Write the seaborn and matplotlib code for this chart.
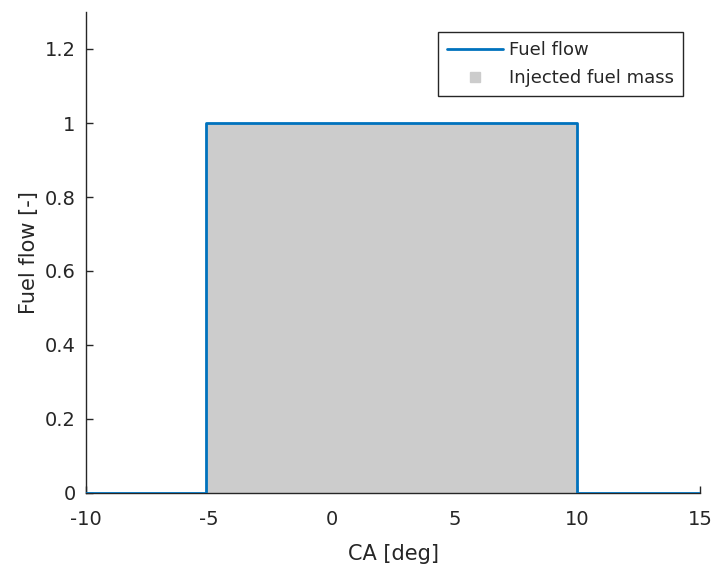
import matplotlib
matplotlib.use("Agg")
import matplotlib.pyplot as plt
import seaborn as sns
import pandas as pd
from matplotlib.lines import Line2D

# Data
ca_deg = [-10, -5.1, -5.1, 10, 10, 15]
fuel_flow = [0, 0, 1, 1, 0, 0]
x_ticks = [-10, -5, 0, 5, 10, 15]
y_ticks = [0, 0.2, 0.4, 0.6, 0.8, 1, 1.2]
y_tick_labels = ["0", "0.2", "0.4", "0.6", "0.8", "1", "1.2"]

sns.set_theme(style="white")
plt.rcParams['font.family'] = ['DejaVu Sans']

df = pd.DataFrame({"CA": ca_deg, "flow": fuel_flow})

fig = plt.figure(figsize=(7.14, 5.67), dpi=100)
ax = fig.add_axes([86/714, 1-493/567, (700-86)/714, (493-12)/567])

blue = (0, 0.447, 0.741)
gray = (0.8, 0.8, 0.8)
dark = (0.15, 0.15, 0.15)
ax.fill_between(df["CA"], df["flow"], 0, color=gray, linewidth=0, zorder=1)
sns.lineplot(data=df, x="CA", y="flow", ax=ax, color=blue, linewidth=2,
             sort=False, estimator=None, zorder=6)

ax.set_xlim(-10, 15)
ax.set_ylim(0, 1.3)
ax.set_xticks(x_ticks)
ax.set_xticklabels([str(t) for t in x_ticks])
ax.set_yticks(y_ticks)
ax.set_yticklabels(y_tick_labels)
ax.set_axisbelow(True)
ax.tick_params(bottom=True, left=True, direction="in", length=5, width=1,
               colors=dark, labelsize=14, labelcolor=dark)
ax.tick_params(axis="x", pad=12)
ax.tick_params(axis="y", pad=7.5)
for s in ["top", "right"]:
    ax.spines[s].set_visible(False)
for s in ["left", "bottom"]:
    ax.spines[s].set_color(dark)
    ax.spines[s].set_linewidth(1)
    ax.spines[s].set_zorder(5)

ax.set_xlabel("CA [deg]", fontsize=15, color=dark, labelpad=11)
ax.set_ylabel("Fuel flow [-]", fontsize=15, color=dark, labelpad=4)

handles = [
    Line2D([0], [0], color=blue, linewidth=2),
    Line2D([0], [0], color=gray, marker="s", linestyle="none", markersize=6.5),
]
leg = ax.legend(handles, ["Fuel flow", "Injected fuel mass"], loc="upper right",
                bbox_to_anchor=(683/714, 1-32/567), bbox_transform=fig.transFigure,
                fontsize=13, frameon=True, fancybox=False, framealpha=1,
                edgecolor=dark, handlelength=3.1, borderpad=0.5,
                labelspacing=0.57, handletextpad=0.35, borderaxespad=0)
leg.get_frame().set_linewidth(1)

fig.savefig("out.png", dpi=100)
